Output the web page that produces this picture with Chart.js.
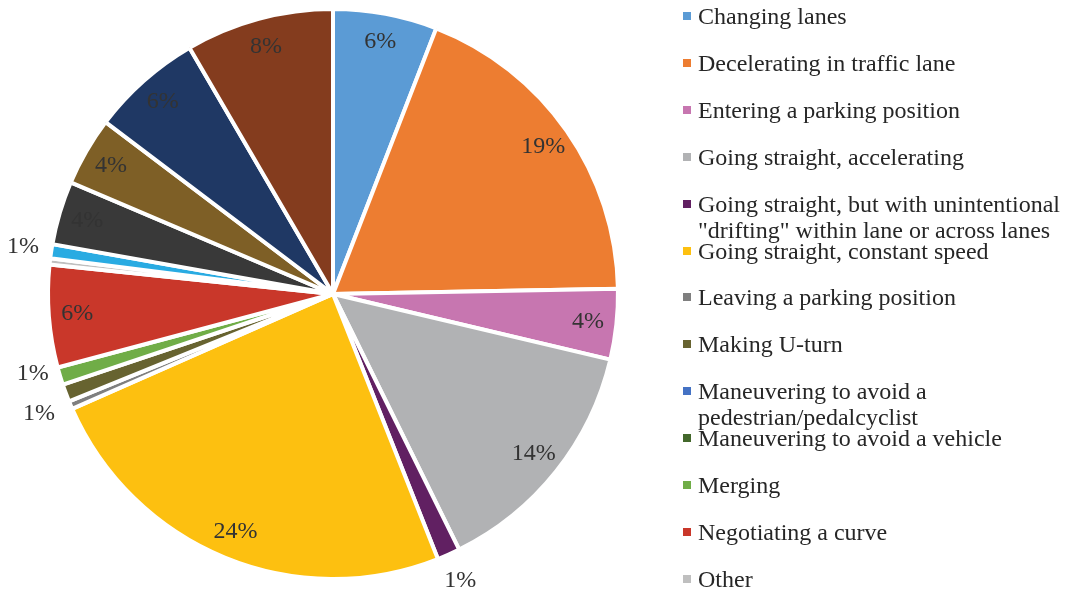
<!DOCTYPE html>
<html>
<head>
<meta charset="utf-8">
<script src="https://cdn.jsdelivr.net/npm/chart.js@4.4.1/dist/chart.umd.min.js"></script>
<style>
  html, body { margin: 0; padding: 0; background: #fff; overflow: hidden; }
  body { width: 1065px; height: 592px; position: relative; }
  .pie-box { position: absolute; left: 0; top: 0; width: 666px; height: 592px; }
  .legend { position: absolute; left: 0; top: 0; width: 1065px; height: 592px; pointer-events: none; }
  .legend-item {
    position: absolute; left: 698px;
    font: 24px "Liberation Serif", "Times New Roman", serif;
    line-height: 26px; color: #262626; white-space: pre;
  }
  .legend-box { position: absolute; left: -15px; top: 9px; width: 8px; height: 8px; }
</style>
</head>
<body>
<div class="pie-box"><canvas id="pie"></canvas></div>
<div class="legend" id="legend"></div>

<script>
// ---- data ----
const categories = [
  'Changing lanes',
  'Decelerating in traffic lane',
  'Entering a parking position',
  'Going straight, accelerating',
  'Going straight, but with unintentional\n"drifting" within lane or across lanes',
  'Going straight, constant speed',
  'Leaving a parking position',
  'Making U-turn',
  'Maneuvering to avoid a\npedestrian/pedalcyclist',
  'Maneuvering to avoid a vehicle',
  'Merging',
  'Negotiating a curve',
  'Other',
  'Passing or overtaking another vehicle',
  'Starting in traffic lane',
  'Stopped in traffic lane',
  'Turning left',
  'Turning right'
];

const shares = [5.9, 18.8, 4.0, 14.0, 1.3, 24.4, 0.45, 1.0, 0, 0, 1.0, 5.8, 0.35, 0.8, 3.6, 3.9, 6.3, 8.4];

const colors = [
  '#5B9BD5', '#ED7D31', '#C776B0', '#B1B2B4', '#612062', '#FDC010',
  '#7F7F7F', '#676330', '#4472C4', '#43682B', '#70AD47', '#C9372A',
  '#BFBFBF', '#29ABE2', '#393939', '#7E5F26', '#1F3864', '#843C1E'
];

/* ======================================================
   Percentage labels (inside near rim, outside for small slices)
====================================================== */

const pctLabels = {
  id: 'pctLabels',
  afterDatasetsDraw(chart) {
    const ctx = chart.ctx;
    const meta = chart.getDatasetMeta(0);
    const spots = [];

    meta.data.forEach((arc, i) => {
      const pct = Math.round(shares[i]);
      if (pct < 1) return;
      const mid = (arc.startAngle + arc.endAngle) / 2;
      const outside = shares[i] < 2;
      const r = outside ? arc.outerRadius * 1.1 : arc.outerRadius * 0.9;
      spots.push({
        text: pct + '%', outside,
        x: arc.x + Math.cos(mid) * r,
        y: arc.y + Math.sin(mid) * r
      });
    });

    // push apart outside labels that sit too close together
    const minGap = 40;
    for (let k = 1; k < spots.length; k++) {
      const a = spots[k - 1], b = spots[k];
      if (!a.outside || !b.outside) continue;
      const dy = b.y - a.y;
      if (Math.abs(dy) < minGap && Math.abs(b.x - a.x) < 60) {
        const midY = (a.y + b.y) / 2;
        const dir = dy >= 0 ? 1 : -1;
        a.y = midY - dir * minGap / 2;
        b.y = midY + dir * minGap / 2;
      }
    }

    ctx.save();
    ctx.font = '24px "Liberation Serif", "Times New Roman", serif';
    ctx.fillStyle = '#333333';
    ctx.textAlign = 'center';
    ctx.textBaseline = 'middle';
    spots.forEach(s => ctx.fillText(s.text, s.x, s.y));
    ctx.restore();
  }
};

new Chart(document.getElementById('pie'), {
  type: 'pie',
  data: {
    labels: categories,
    datasets: [{
      data: shares,
      backgroundColor: colors,
      borderColor: '#ffffff',
      borderWidth: 4
    }]
  },
  options: {
    responsive: true,
    maintainAspectRatio: false,
    animation: false,
    layout: { padding: { top: 7, bottom: 11, left: 0, right: 0 } },
    plugins: {
      legend: { display: false },
      tooltip: { enabled: false }
    }
  },
  plugins: [pctLabels]
});

/* ======================================================
   Legend (cropped at the bottom like the original)
====================================================== */

const legend = document.getElementById('legend');
categories.forEach((name, i) => {
  const item = document.createElement('div');
  item.className = 'legend-item';
  item.style.top = (16 + i * 46.9 - 13) + 'px';
  item.textContent = name;
  const box = document.createElement('span');
  box.className = 'legend-box';
  box.style.background = colors[i];
  item.appendChild(box);
  legend.appendChild(item);
});
</script>
</body>
</html>
